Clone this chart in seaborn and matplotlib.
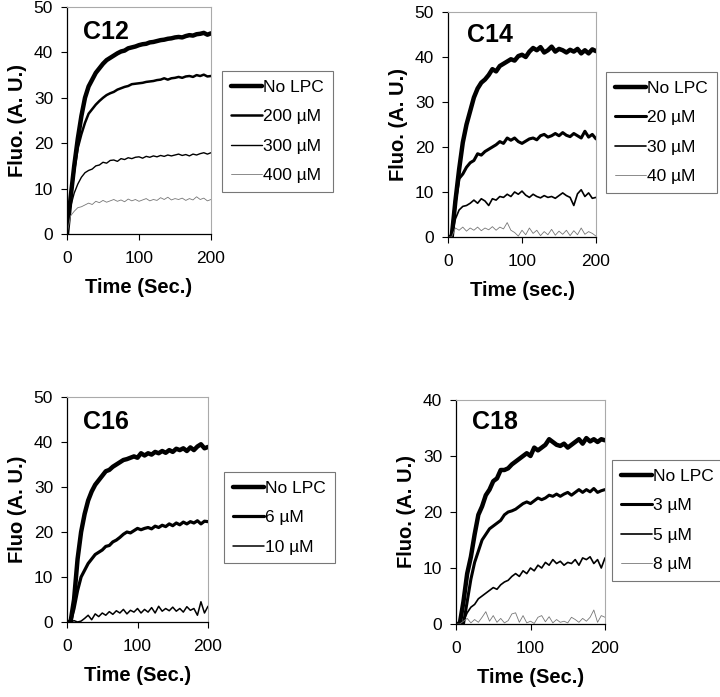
import matplotlib
matplotlib.use("Agg")
import matplotlib.pyplot as plt
import seaborn as sns
import pandas as pd

# ---------------- data ----------------
time = list(range(0, 201, 5))

c12_labels = ["No LPC", "200 µM", "300 µM", "400 µM"]
c12_nolpc = [0, 8, 15, 21, 26, 30, 32.5, 34, 35.5, 36.5, 37.5, 38.3, 38.8, 39.3, 39.8, 40.2, 40.4, 40.9, 41.1, 41.3,
             41.6, 41.8, 41.9, 42.2, 42.3, 42.5, 42.7, 42.8, 43.0, 43.1, 43.3, 43.4, 43.3, 43.6, 43.8, 43.7, 44.0, 44.1,
             44.3, 43.9, 44.2]
c12_200 = [0, 8, 14, 19, 22, 24.5, 26.5, 27.5, 28.5, 29.3, 30, 30.6, 31, 31.3, 31.8, 32.1, 32.4, 32.6, 33, 33.1,
           33.2, 33.3, 33.5, 33.6, 33.7, 33.9, 34, 34.3, 34.0, 34.3, 34.4, 34.6, 34.4, 34.7, 34.8, 34.6, 35.0, 34.8,
           35.1, 34.7, 34.8]
c12_300 = [0, 6, 9, 11, 12.5, 13.5, 14, 14.3, 15, 15.2, 15.8, 15.6, 16.2, 16.3, 16.0, 16.6, 16.4, 16.8, 16.6, 16.9,
           17.0, 16.7, 17.1, 16.9, 17.2, 17.0, 17.3, 17.1, 17.4, 17.2, 17.4, 17.6, 17.3, 17.5, 17.2, 17.6, 17.4, 17.7,
           17.9, 17.6, 17.9]
c12_400 = [0, 4, 5, 5.8, 6, 6.4, 6.8, 6.5, 7.2, 6.9, 7.4, 7.0, 7.3, 7.6, 7.2, 7.5, 7.1, 7.7, 7.3, 7.6,
           7.2, 7.5, 7.8, 7.3, 7.6, 7.4, 8.0, 7.6, 8.1, 7.5, 7.8, 7.6, 7.9, 7.4, 7.8, 7.5, 8.2, 7.6,
           7.9, 7.3, 7.6]

c14_labels = ["No LPC", "20 µM", "30 µM", "40 µM"]
c14_nolpc = [0, 0, 8, 15, 21, 25, 28, 31, 33, 34.3, 35, 36, 37.3, 36.8, 38, 38.5, 39, 39.5, 39.2, 40.2,
             40.5, 40.0, 41.2, 42.0, 41.5, 42.2, 41.0, 41.5, 42.3, 41.2, 41.8, 41.5, 41.0, 41.6, 41.2, 41.8, 40.8, 41.5,
             40.8, 41.7, 41.3]
c14_20 = [0, 0, 8, 13, 14, 15.5, 16.5, 17, 18.5, 18.2, 19, 19.5, 20, 20.5, 21.2, 20.8, 22, 21.5, 22, 21.2,
          20.8, 21.3, 21.8, 22, 21.6, 22.5, 22.8, 22.2, 22.5, 23, 22.5, 23.2, 22.6, 22.3, 23, 22.5, 22, 23.5,
          22.2, 22.8, 21.8]
c14_30 = [0, 0, 4, 6, 6.8, 7, 7.5, 8.2, 7.5, 8.5, 8, 7.0, 8.5, 8.2, 9, 8.8, 9.5, 9, 10, 9.5,
          10.2, 9.3, 8.8, 9.5, 9, 8.7, 9.2, 8.8, 9, 8.6, 9.2, 9.8, 9.2, 8.8, 7, 9.6, 10.5, 9, 9.8, 8.6, 8.8]
c14_40 = [0, 0, 2, 1.5, 2.2, 1.3, 2, 1.5, 2.2, 1.4, 2.0, 1.6, 2.3, 1.5, 2.2, 1.8, 3.2, 1.5, 1.0, 0.2,
          1.5, 0.5, 2.0, 0.8, 1.5, 0.3, 1.2, 0.5, 1.7, 0.4, 1.3, 0.6, 1.5, 0.3, 1.4, 0.5, 2.0, 0.6, 1.2, 0.8, 0.2]

c16_labels = ["No LPC", "6 µM", "10 µM"]
c16_nolpc = [0, 0, 5, 14, 20, 24, 27, 29, 30.5, 31.5, 32.5, 33.5, 33.8, 34.5, 35, 35.5, 36, 36.2, 36.5, 36.8,
             36.5, 37.5, 37, 37.5, 37.2, 37.8, 37.5, 38, 37.6, 38.2, 37.8, 38.5, 38.2, 38.6, 38.0, 38.8, 38.2, 39,
             39.5, 38.6, 38.9]
c16_6 = [0, 0, 3, 7, 10, 11.5, 13, 14, 15, 15.5, 16, 16.8, 17, 17.8, 18.2, 18.8, 19.5, 20, 19.8, 20.3,
         20.8, 20.5, 20.8, 21, 20.7, 21.3, 21, 21.5, 21.2, 21.8, 21.4, 22, 21.6, 22.2, 21.8, 22.3, 22, 22.5,
         21.8, 22.4, 22.3]
c16_10 = [0, 0, 0.3, 0, 0.2, 0.8, 1.5, 0.5, 1.8, 1.2, 2.0, 1.5, 2.3, 1.7, 2.5, 2.0, 2.8, 1.8, 2.6, 2.2,
          3.0, 2.0, 2.8, 2.2, 3.2, 2.0, 3.5, 2.4, 3.0, 2.5, 3.3, 2.4, 3.0, 2.2, 3.4, 2.6, 3.0, 1.5, 4.5, 2.0, 3.5]

c18_labels = ["No LPC", "3 µM", "5 µM", "8 µM"]
c18_nolpc = [0, 0, 4, 9, 12, 16, 19.5, 21, 23, 24, 25.5, 26, 27.5, 27.5, 27.8, 28.5, 29, 29.5, 30, 30.5,
             30, 31.5, 31, 31.5, 32, 33, 32.5, 32, 31.8, 32.2, 31.5, 32, 32.5, 33, 32.2, 33.2, 32.6, 33,
             32.5, 33, 32.8]
c18_3 = [0, 0, 0, 4, 8, 11, 13, 15, 16, 17, 17.5, 18, 18.5, 19.5, 20, 20.2, 20.5, 21, 21.5, 21.8,
         21.5, 22, 22.5, 22.2, 22.5, 23, 22.8, 23.2, 22.8, 23.2, 23.5, 23, 23.5, 24, 23.5, 24, 23.6, 24.2,
         23.5, 23.8, 24]
c18_5 = [0, 0, 0.5, 2, 3, 3.5, 4.5, 5, 5.5, 6, 6.5, 6.2, 7, 7.5, 7.8, 8.5, 9, 8.5, 9.5, 9,
         10, 9.5, 10.5, 10, 11, 10.5, 11.5, 10.8, 11.2, 10.5, 11, 10.8, 11.5, 10.5, 11.8, 11.5, 12, 10.8,
         11.5, 10, 11.8]
c18_8 = [0, 0, 0.5, 1, 0.2, 0.8, 0.3, 1.2, 2.2, 0.5, 1.5, 0.3, 1, 0.2, 0.6, 1.8, 2.0, 0.3, 1.5, 0.2,
         0.5, 0.1, 1.2, 1.5, 0.4, 1.3, 0.2, 0.8, 0.3, 0.5, 0.2, 1.2, 0.8, 0.3, 1, 0.5, 1.2, 2.5, 0.3, 1.5, 1.2]

# ---------------- style ----------------
sns.set_theme(style="white")
plt.rcParams['font.family'] = ['Liberation Sans', 'DejaVu Sans']
for key in ["text.color", "axes.labelcolor", "xtick.color", "ytick.color"]:
    plt.rcParams[key] = "black"

W, H = 720, 697
fig = plt.figure(figsize=(W / 100, H / 100), dpi=100)

panels = [
    dict(title="C12", labels=c12_labels, series=[c12_nolpc, c12_200, c12_300, c12_400],
         widths=[3.2, 1.8, 1.0, 0.6], colors=["black", "black", "black", "#777777"],
         rect=(67, 7, 211, 234), ymax=50, ylabel="Fluo. (A. U.)", xlabel="Time (Sec.)",
         leg=(222, 71), title_pos=(0.11, 0.89)),
    dict(title="C14", labels=c14_labels, series=[c14_nolpc, c14_20, c14_30, c14_40],
         widths=[3.2, 2.2, 1.2, 0.6], colors=["black", "black", "black", "#777777"],
         rect=(448, 12, 596, 237), ymax=50, ylabel="Fluo. (A. U.)", xlabel="Time (sec.)",
         leg=(606, 72), title_pos=(0.13, 0.90)),
    dict(title="C16", labels=c16_labels, series=[c16_nolpc, c16_6, c16_10],
         widths=[3.2, 2.3, 1.1], colors=["black", "black", "black"],
         rect=(67, 397, 208, 622), ymax=50, ylabel="Fluo (A. U.)", xlabel="Time (Sec.)",
         leg=(224, 472), title_pos=(0.11, 0.89)),
    dict(title="C18", labels=c18_labels, series=[c18_nolpc, c18_3, c18_5, c18_8],
         widths=[3.2, 2.2, 1.2, 0.6], colors=["black", "black", "black", "#777777"],
         rect=(456, 400, 605, 624), ymax=40, ylabel="Fluo. (A. U.)", xlabel="Time (Sec.)",
         leg=(612, 460), title_pos=(0.107, 0.90)),
]

for p in panels:
    x0, y0, x1, y1 = p["rect"]
    ax = fig.add_axes([x0 / W, 1 - y1 / H, (x1 - x0) / W, (y1 - y0) / H])
    rows = []
    for lab, vals in zip(p["labels"], p["series"]):
        for t, v in zip(time, vals):
            rows.append({"time": t, "fluo": v, "series": lab})
    df = pd.DataFrame(rows)
    for lab, lw, col in zip(p["labels"], p["widths"], p["colors"]):
        sub = df[df["series"] == lab]
        sns.lineplot(data=sub, x="time", y="fluo", ax=ax, color=col, linewidth=lw,
                     label=lab, estimator=None, legend=False)
    ax.set_xlim(0, 200)
    ax.set_ylim(0, p["ymax"])
    ax.set_xticks([0, 100, 200])
    ax.set_yticks(list(range(0, p["ymax"] + 1, 10)))
    ax.tick_params(axis="x", direction="out", length=4, width=0.8, color="black",
                   labelsize=12.5, pad=8, bottom=True, labelcolor="black")
    ax.tick_params(axis="y", direction="out", length=4, width=0.8, color="black",
                   labelsize=12.5, pad=6, left=True, labelcolor="black")
    for side in ["left", "bottom"]:
        ax.spines[side].set_color("black")
        ax.spines[side].set_linewidth(0.9)
    for side in ["top", "right"]:
        ax.spines[side].set_color("#aaaaaa")
        ax.spines[side].set_linewidth(0.8)
    ax.set_xlabel(p["xlabel"], fontsize=14.5, fontweight="bold", labelpad=9, color="black")
    ax.set_ylabel(p["ylabel"], fontsize=14.5, fontweight="bold", labelpad=5, color="black")
    ax.text(p["title_pos"][0], p["title_pos"][1], p["title"], transform=ax.transAxes,
            fontsize=18, fontweight="bold", ha="left", va="center", color="black")
    handles, labels = ax.get_legend_handles_labels()
    lx, ly = p["leg"]
    leg = ax.legend(handles, labels, loc="upper left", bbox_to_anchor=(lx / W, 1 - ly / H),
                    bbox_transform=fig.transFigure, frameon=True, fancybox=False,
                    edgecolor="#555555", fontsize=12.5, handlelength=1.8, handletextpad=0.08,
                    labelspacing=0.82, borderpad=0.5, borderaxespad=0)
    leg.get_frame().set_linewidth(0.8)
    for t in leg.get_texts():
        t.set_color("black")

fig.savefig("out.png", dpi=100)
